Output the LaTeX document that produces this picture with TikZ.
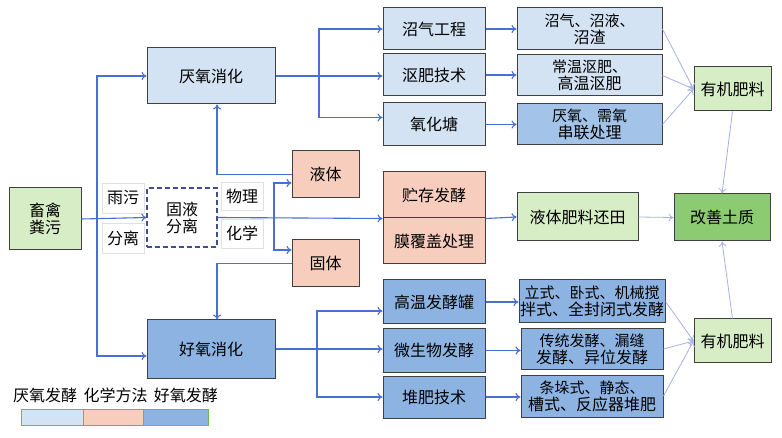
\documentclass[tikz,border=0pt]{standalone}
\usepackage{fontspec}
\setmainfont{Noto Sans CJK SC}
\usetikzlibrary{positioning, arrows.meta}
\definecolor{anaerColor}{HTML}{D3E3F3}
\definecolor{aerColor}{HTML}{8DB3E2}
\definecolor{seriesColor}{HTML}{A3C4E8}
\definecolor{chemColor}{HTML}{F7CDBD}
\definecolor{sourceColor}{HTML}{D7EDC6}
\definecolor{soilColor}{HTML}{8DCB72}
\definecolor{flowColor}{HTML}{4A6FD2}
\definecolor{outColor}{HTML}{A6B0E6}
\definecolor{dashColor}{HTML}{3F4F8F}
\definecolor{legendEdge}{HTML}{6DB94D}
\tikzstyle{canvas} = [x = 1pt, y = -1pt, font=\fontsize{16}{17}\selectfont]
\tikzstyle{stageBox} = [draw=black!75, line width=1pt, align=center, inner sep=1pt]
\tikzstyle{tagBox} = [draw=black!12, fill=white, inner sep=1pt, minimum width=42pt]
\tikzstyle{flowArrow} = [-{To[length=5pt, width=8pt]}, color=flowColor, line width=1.1pt]
\tikzstyle{outArrow} = [-{To[length=5pt, width=8pt]}, color=outColor, line width=0.8pt]
\newcommand{\denseText}{\fontsize{15}{16.5}\selectfont}
\newcommand{\stage}[7]{\node [stageBox, fill=#2, minimum width=#5pt, minimum height=#6pt] (#1) at (#3,#4) {#7};}
\begin{document}
\begin{tikzpicture}[canvas]
  \fill [white] (0,0) rectangle (782,438);
  \useasboundingbox (0,0) rectangle (782,438);

  % source and separation
  \stage{manure}{sourceColor}{45}{219}{72}{62}{畜禽\\粪污}
  \node [stageBox, dashed, dash pattern=on 5pt off 3pt, draw=dashColor, line width=1.3pt, fill=white,
         minimum width=70pt, minimum height=59pt] (separate) at (182,217.5) {固液\\分离};
  \node [tagBox, minimum height=30pt] (rainTag) at (123,198) {雨污};
  \node [tagBox, minimum height=30pt] (splitTag) at (123,238) {分离};
  \node [tagBox, minimum height=28pt] (physTag) at (242,196.5) {物理};
  \node [tagBox, minimum height=29pt] (chemTag) at (242,233.5) {化学};
  \stage{liquid}{chemColor}{325.5}{174.5}{67}{47}{液体}
  \stage{solid}{chemColor}{325.5}{263.5}{67}{47}{固体}

  % digestion
  \stage{anaerDigest}{anaerColor}{211}{76}{128}{56}{厌氧消化}
  \stage{aerDigest}{aerColor}{211}{349}{128}{58}{好氧消化}

  % techniques
  \stage{biogas}{anaerColor}{434}{29}{102}{42}{沼气工程}
  \stage{retting}{anaerColor}{434}{75}{102}{42}{沤肥技术}
  \stage{pond}{anaerColor}{434}{124.5}{102}{43}{氧化塘}
  \stage{storage}{chemColor}{434}{195}{102}{46}{贮存发酵}
  \stage{film}{chemColor}{434}{241}{102}{46}{膜覆盖处理}
  \stage{tank}{aerColor}{434}{302}{102}{44}{高温发酵罐}
  \stage{microbe}{aerColor}{434}{350.5}{102}{43}{微生物发酵}
  \stage{pile}{aerColor}{434}{397}{102}{42}{堆肥技术}

  % products
  \stage{gasOut}{anaerColor}{589.5}{29}{145}{42}{\denseText 沼气、沼液、\\沼渣}
  \stage{rettingOut}{anaerColor}{589.5}{75.5}{145}{41}{\denseText 常温沤肥、\\高温沤肥}
  \stage{seriesOut}{seriesColor}{589.5}{124.5}{145}{41}{\denseText 厌氧、需氧\\串联处理}
  \stage{liquidField}{sourceColor}{577.5}{217}{121}{48}{液体肥料还田}
  \stage{tankOut}{aerColor}{592}{301.5}{142}{43}{\denseText 立式、卧式、机械搅\\拌式、全封闭式发酵}
  \stage{microbeOut}{aerColor}{592}{349}{142}{40}{\denseText 传统发酵、漏缝\\发酵、异位发酵}
  \stage{pileOut}{aerColor}{592}{396}{142}{42}{\denseText 条垛式、静态、\\槽式、反应器堆肥}
  \stage{organicTop}{sourceColor}{732.5}{89}{77}{44}{有机肥料}
  \stage{soil}{soilColor}{722}{217.5}{96}{47}{改善土质}
  \stage{organicBottom}{sourceColor}{732.5}{341}{77}{44}{有机肥料}

  % branch points
  \coordinate (leftBus) at (97,219);
  \coordinate (midBranch) at (274,217.5);
  \coordinate (anaerBranch) at (319,76);
  \coordinate (aerBranch) at (317,349);

  % main flow
  \draw [flowArrow] (manure.east) -- (separate.west);
  \draw [flowArrow] (leftBus) |- (anaerDigest.west);
  \draw [flowArrow] (leftBus) |- ([yshift=-7pt]aerDigest.west);
  \draw [flowArrow] (separate.east) -- (storage.south west);
  \draw [flowArrow] (midBranch) |- ([yshift=-8.5pt]liquid.west);
  \draw [flowArrow] (midBranch) |- ([yshift=13.5pt]solid.west);
  \draw [flowArrow] (liquid.west) -| ([xshift=6pt]anaerDigest.south);
  \draw [flowArrow] (solid.west) -| ([xshift=6pt]aerDigest.north);
  \draw [flowArrow] (anaerDigest.east) -- (anaerDigest.east -| retting.west);
  \draw [flowArrow] (anaerBranch) |- (biogas.west);
  \draw [flowArrow] (anaerBranch) |- ([yshift=7pt]pond.west);
  \draw [flowArrow] (aerDigest.east) -- (aerDigest.east -| microbe.west);
  \draw [flowArrow] (aerBranch) |- ([yshift=-9pt]tank.west);
  \draw [flowArrow] (aerBranch) |- (pile.west);
  \foreach \from/\to in {biogas/gasOut, retting/rettingOut, pond/seriesOut, tank/tankOut, microbe/microbeOut, pile/pileOut}
    \draw [flowArrow] (\from.east) -- (\from.east -| \to.west);
  \draw [flowArrow] (storage.south east) -- (liquidField.west);

  % to soil
  \foreach \from in {gasOut, rettingOut, seriesOut}
    \draw [outArrow] (\from.east) -- (organicTop.west);
  \foreach \from in {tankOut, microbeOut, pileOut}
    \draw [outArrow] (\from.east) -- (organicBottom.west);
  \draw [outArrow] (liquidField.east) -- (soil.west);
  \draw [outArrow] (organicTop.south) -- (soil.north);
  \draw [outArrow] (organicBottom.north) -- (soil.south);

  % legend
  \node [anchor=west, inner sep=0pt] (legendText) at (13,395) {厌氧发酵\hspace{0.4em}化学方法\hspace{0.4em}好氧发酵};
  \draw [legendEdge, line width=1pt, fill=anaerColor] (21,409) rectangle (83,425);
  \draw [legendEdge, line width=1pt, fill=chemColor] (83,409) rectangle (143,425);
  \draw [legendEdge, line width=1pt, fill=aerColor] (143,409) rectangle (208,425);
\end{tikzpicture}
\end{document}
